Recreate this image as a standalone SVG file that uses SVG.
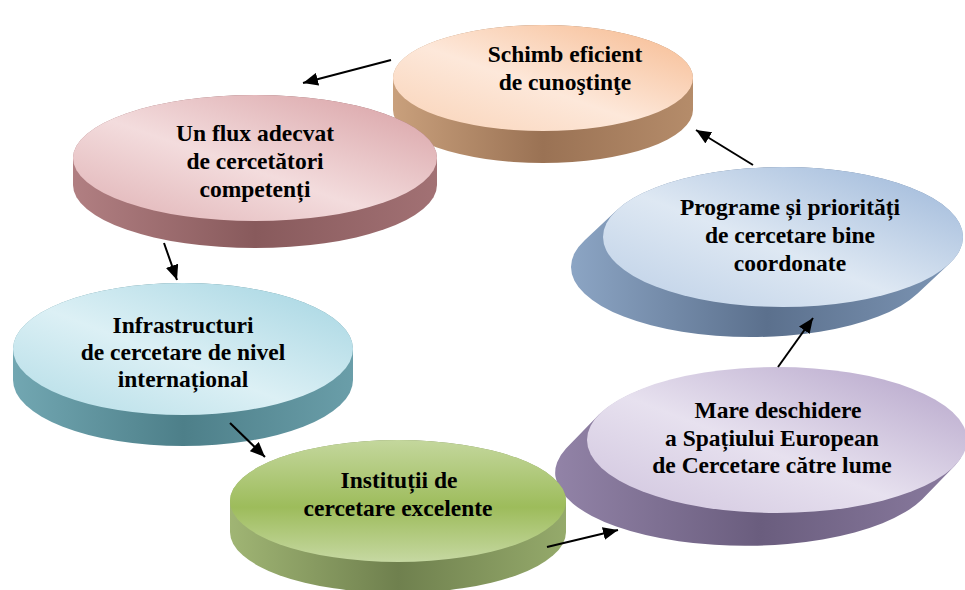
<svg xmlns="http://www.w3.org/2000/svg" width="965" height="590" viewBox="0 0 965 590">
<style>
.t{font-family:"Liberation Serif","Times New Roman","DejaVu Serif",serif;font-weight:700;font-size:23.5px;fill:#000;text-anchor:middle}
.c{stroke:#000;stroke-width:2;fill:none;marker-end:url(#ah)}
</style>
<defs>
<marker id="ah" markerUnits="userSpaceOnUse" markerWidth="16" markerHeight="13" refX="15" refY="6.5" orient="auto">
<path d="M0,0 L15,6.5 L0,13 Z" fill="#000"/>
</marker>
<linearGradient id="fO" x1="0" y1="1" x2="1" y2="0"><stop offset="0" stop-color="#f9d2b6"/><stop offset="0.45" stop-color="#fde8da"/><stop offset="1" stop-color="#f6b98e"/></linearGradient>
<linearGradient id="sO" x1="0" y1="0" x2="1" y2="0"><stop offset="0" stop-color="#c9a07c"/><stop offset="0.5" stop-color="#9a7254"/><stop offset="1" stop-color="#b58c6a"/></linearGradient>
<linearGradient id="fP" x1="0" y1="1" x2="1" y2="0"><stop offset="0" stop-color="#dfb0b3"/><stop offset="0.45" stop-color="#f3dcdd"/><stop offset="1" stop-color="#d79ea2"/></linearGradient>
<linearGradient id="sP" x1="0" y1="0" x2="1" y2="0"><stop offset="0" stop-color="#b17f82"/><stop offset="0.5" stop-color="#885a5c"/><stop offset="1" stop-color="#a27174"/></linearGradient>
<linearGradient id="fC" x1="0" y1="1" x2="1" y2="0"><stop offset="0" stop-color="#b2dce6"/><stop offset="0.45" stop-color="#dcf0f5"/><stop offset="1" stop-color="#a3d4e1"/></linearGradient>
<linearGradient id="sC" x1="0" y1="0" x2="1" y2="0"><stop offset="0" stop-color="#72a7b2"/><stop offset="0.5" stop-color="#4d7f89"/><stop offset="1" stop-color="#6a9ea9"/></linearGradient>
<linearGradient id="fG" x1="0" y1="0" x2="0" y2="1"><stop offset="0" stop-color="#c4d79d"/><stop offset="0.55" stop-color="#9dbc5b"/><stop offset="1" stop-color="#c6d8a2"/></linearGradient>
<linearGradient id="sG" x1="0" y1="0" x2="1" y2="0"><stop offset="0" stop-color="#a0b574"/><stop offset="0.5" stop-color="#6f804e"/><stop offset="1" stop-color="#95aa6b"/></linearGradient>
<linearGradient id="fV" x1="0" y1="1" x2="1" y2="0"><stop offset="0" stop-color="#cfc3dd"/><stop offset="0.45" stop-color="#e7e1ef"/><stop offset="1" stop-color="#b3a2c8"/></linearGradient>
<linearGradient id="sV" x1="0" y1="0" x2="1" y2="0"><stop offset="0" stop-color="#9283a7"/><stop offset="0.5" stop-color="#6a5d7e"/><stop offset="1" stop-color="#8b7ca0"/></linearGradient>
<linearGradient id="fB" x1="0" y1="1" x2="1" y2="0"><stop offset="0" stop-color="#bccfe6"/><stop offset="0.45" stop-color="#dee8f3"/><stop offset="1" stop-color="#9ab5d8"/></linearGradient>
<linearGradient id="sB" x1="0" y1="0" x2="1" y2="0"><stop offset="0" stop-color="#8ca5c4"/><stop offset="0.5" stop-color="#5b708d"/><stop offset="1" stop-color="#7e97b6"/></linearGradient>
</defs>
<rect width="965" height="590" fill="#fff"/>

<g id="node-programe">
<path d="M949.3,263.8 L917.3,293.8 A180 70 0 0 1 584.7,240.2 L616.7,210.2 A180 70 0 0 1 949.3,263.8 Z" fill="url(#sB)"/>
<ellipse cx="783" cy="237" rx="180" ry="70" fill="url(#fB)"/>
<text class="t" x="790" y="215">Programe și priorități</text>
<text class="t" x="790" y="243">de cercetare bine</text>
<text class="t" x="790" y="271">coordonate</text>
</g>

<g id="node-schimb">
<path d="M693,78 L693,110 A150 53 0 0 1 393,110 L393,78 A150 53 0 0 1 693,78 Z" fill="url(#sO)"/>
<ellipse cx="543" cy="78" rx="150" ry="53" fill="url(#fO)"/>
<text class="t" x="565" y="62">Schimb eficient</text>
<text class="t" x="565" y="90">de cunoştinţe</text>
</g>

<g id="node-flux">
<path d="M437,158 L437,185 A182 63 0 0 1 73,185 L73,158 A182 63 0 0 1 437,158 Z" fill="url(#sP)"/>
<ellipse cx="255" cy="158" rx="182" ry="63" fill="url(#fP)"/>
<text class="t" x="255" y="141">Un flux adecvat</text>
<text class="t" x="255" y="169">de cercetători</text>
<text class="t" x="255" y="197">competenți</text>
</g>

<g id="node-infrastructuri">
<path d="M353,349 L353,380 A170 66 0 0 1 13,380 L13,349 A170 66 0 0 1 353,349 Z" fill="url(#sC)"/>
<ellipse cx="183" cy="349" rx="170" ry="66" fill="url(#fC)"/>
<text class="t" x="183" y="333">Infrastructuri</text>
<text class="t" x="183" y="360">de cercetare de nivel</text>
<text class="t" x="183" y="387">internațional</text>
</g>

<g id="node-mare">
<path d="M955,465.5 L922,499.5 A190 73 0 0 1 566,448.5 L599,414.5 A190 73 0 0 1 955,465.5 Z" fill="url(#sV)"/>
<ellipse cx="777" cy="440" rx="190" ry="73" fill="url(#fV)"/>
<text class="t" x="778" y="418">Mare deschidere</text>
<text class="t" x="772" y="446">a Spațiului European</text>
<text class="t" x="772" y="473">de Cercetare către lume</text>
</g>

<g id="node-institutii">
<path d="M566,501 L566,532 A168 61 0 0 1 230,532 L230,501 A168 61 0 0 1 566,501 Z" fill="url(#sG)"/>
<ellipse cx="398" cy="501" rx="168" ry="61" fill="url(#fG)"/>
<text class="t" x="399" y="488">Instituții de</text>
<text class="t" x="398" y="516">cercetare excelente</text>
</g>

<g id="connectors">
<line class="c" x1="391" y1="60" x2="303" y2="83"/>
<line class="c" x1="164" y1="243" x2="177" y2="280"/>
<line class="c" x1="230" y1="423" x2="265" y2="457"/>
<line class="c" x1="547" y1="547" x2="618" y2="530"/>
<line class="c" x1="778" y1="367" x2="813" y2="318"/>
<line class="c" x1="753" y1="165" x2="696" y2="130"/>
</g>
</svg>
